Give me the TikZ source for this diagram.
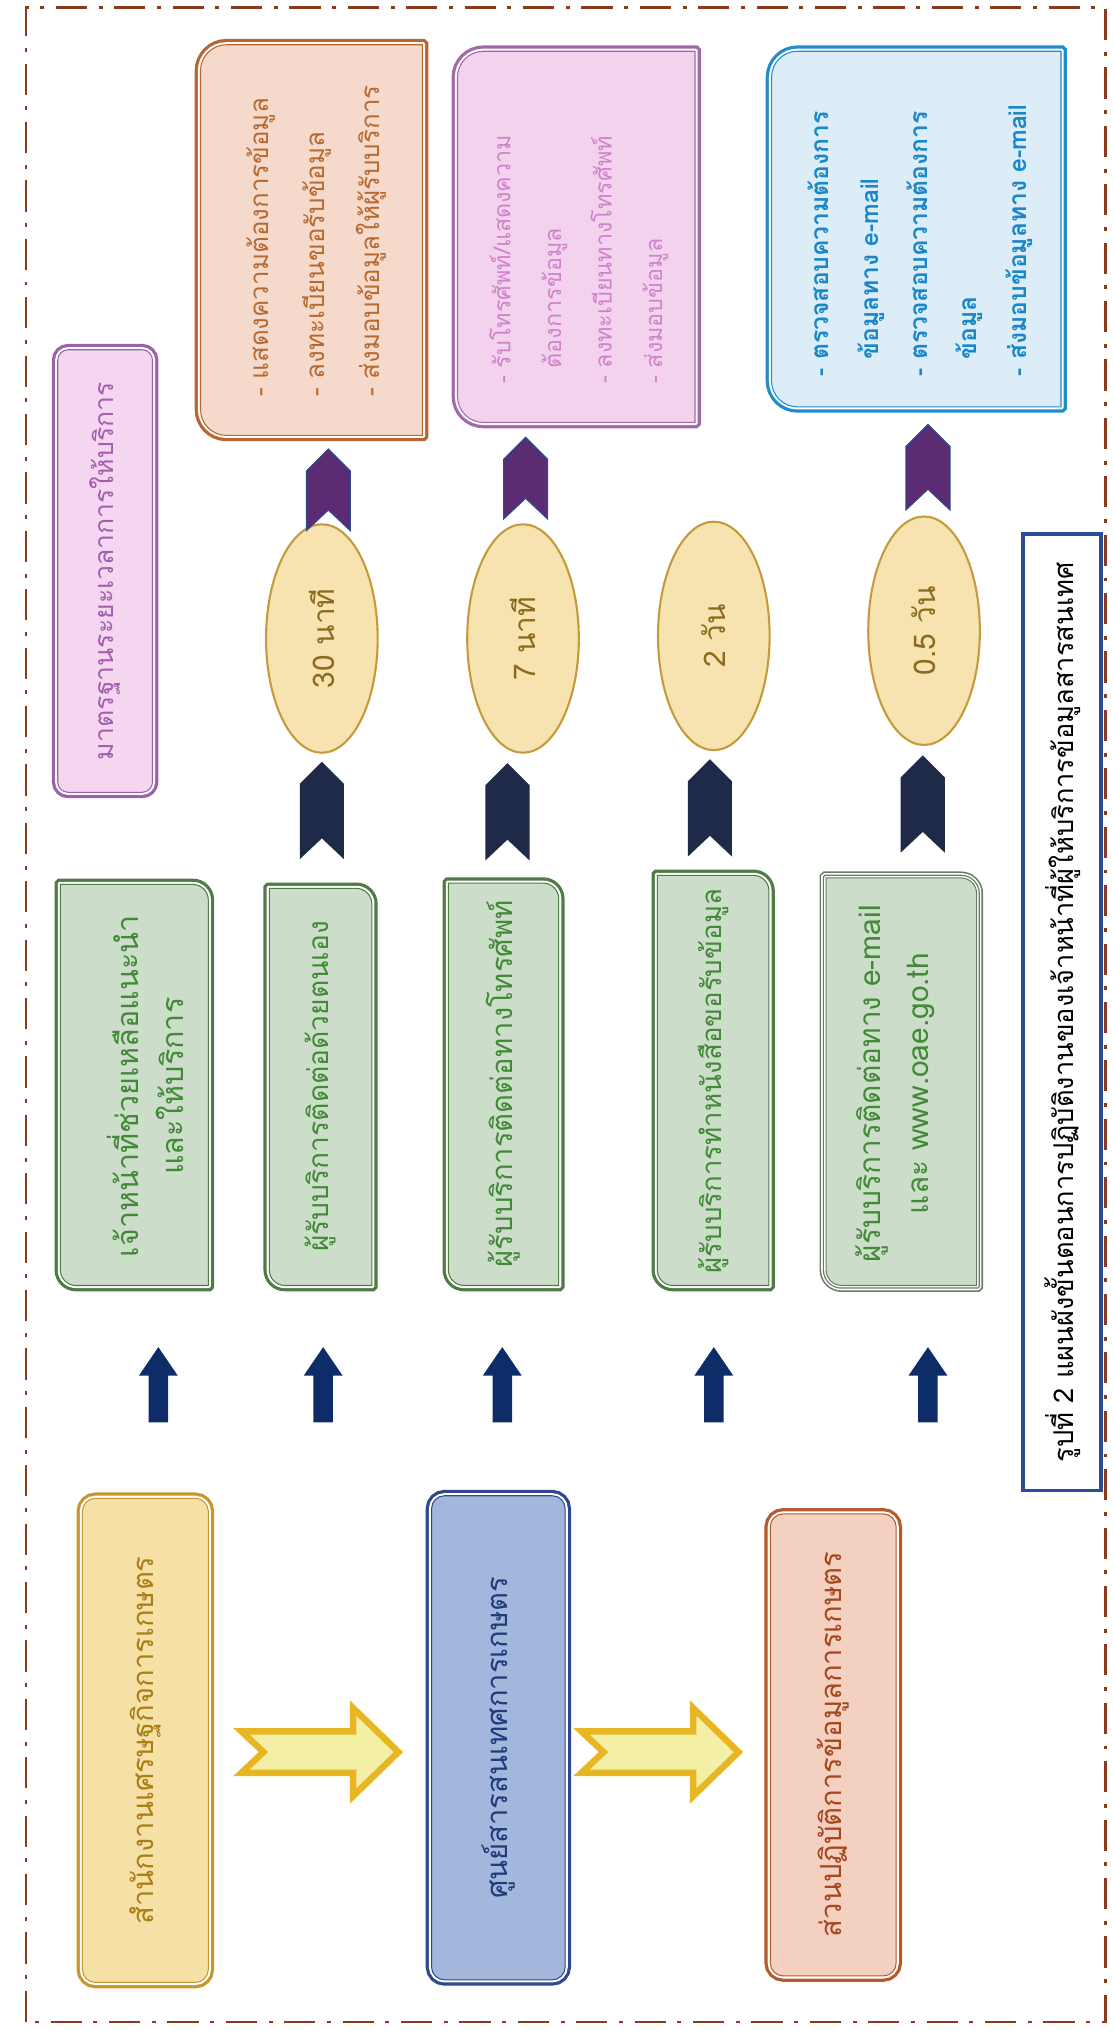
\documentclass[tikz,border=0pt]{standalone}
\usepackage{fontspec}
\newfontfamily\thai[Script=Thai]{Loma}
\usetikzlibrary{shapes.geometric}
\definecolor{dashbrown}{HTML}{8B3A1E}
\definecolor{goldB}{HTML}{C8962F}\definecolor{goldF}{HTML}{F5E0A6}\definecolor{goldT}{HTML}{A97F16}
\definecolor{blueB}{HTML}{2E4A8C}\definecolor{blueF}{HTML}{A3B7DC}\definecolor{blueT}{HTML}{1E3C7C}
\definecolor{peachB}{HTML}{B65A2B}\definecolor{peachF}{HTML}{F3D0C0}\definecolor{peachT}{HTML}{A5461E}
\definecolor{purB}{HTML}{9C62A8}\definecolor{purF}{HTML}{F4D6F0}\definecolor{purT}{HTML}{A45EAE}
\definecolor{grnB}{HTML}{4F7B45}\definecolor{grnF}{HTML}{CCDDC9}\definecolor{grnT}{HTML}{428A38}
\definecolor{grayB}{HTML}{6C7B69}
\definecolor{orB}{HTML}{B9652F}\definecolor{orF}{HTML}{F5D9CB}\definecolor{orT}{HTML}{B76A30}
\definecolor{pinkB}{HTML}{A366A9}\definecolor{pinkF}{HTML}{F3D2EE}\definecolor{pinkT}{HTML}{D083CB}
\definecolor{skyB}{HTML}{1E8DCA}\definecolor{skyF}{HTML}{DDEDF8}\definecolor{skyT}{HTML}{1A87C9}
\definecolor{ellF}{HTML}{F6E3AF}\definecolor{ellB}{HTML}{C59A3A}\definecolor{ellT}{HTML}{8C6B1F}
\definecolor{chevN}{HTML}{1F2A48}\definecolor{chevP}{HTML}{5B2B73}\definecolor{chevPB}{HTML}{2F4D8C}
\definecolor{arrN}{HTML}{0E2C68}\definecolor{arrF}{HTML}{F3EFA5}\definecolor{arrG}{HTML}{E8B523}
\definecolor{capB}{HTML}{2C4C95}
\newcommand\tsz[2]{\fontsize{#1}{#2}\selectfont}
\def\Hh{1568}
\def\bInset{4.5}
% outer box: x1, ytop, x2, ybot (y measured downward), radii TL TR BR BL, style
\newcommand\rframe[9]{%
 \path[#9] ({#1+\bInset+#8},{\Hh-#4+\bInset}) -- ({#3-\bInset-#7},{\Hh-#4+\bInset})
  arc[start angle=-90,end angle=0,radius=#7pt] -- ({#3-\bInset},{\Hh-#2-\bInset-#6})
  arc[start angle=0,end angle=90,radius=#6pt] -- ({#1+\bInset+#5},{\Hh-#2-\bInset})
  arc[start angle=90,end angle=180,radius=#5pt] -- ({#1+\bInset},{\Hh-#4+\bInset+#8})
  arc[start angle=180,end angle=270,radius=#8pt] -- cycle;}
% chevron: cx, ytop, ybot, style
\newcommand\chev[4]{%
 \path[#4] (#1,{\Hh-#2}) -- ({#1+17},{\Hh-#2-17}) -- ({#1+17},{\Hh-#3}) -- (#1,{\Hh-#3+16})
  -- ({#1-17},{\Hh-#3}) -- ({#1-17},{\Hh-#2-17}) -- cycle;}
% up arrow: cx
\newcommand\uparr[1]{%
 \path[fill=arrN] (#1,{\Hh-1038}) -- ({#1+15},{\Hh-1060}) -- ({#1+7.5},{\Hh-1060}) -- ({#1+7.5},{\Hh-1096})
  -- ({#1-7.5},{\Hh-1096}) -- ({#1-7.5},{\Hh-1060}) -- ({#1-15},{\Hh-1060}) -- cycle;}
% right block arrow: x0, x1
\newcommand\rarr[2]{%
 \path[fill=arrF, draw=arrG, line width=5pt, line join=miter] (#1,{\Hh-1334}) -- ({#2-35},{\Hh-1334})
  -- ({#2-35},{\Hh-1316}) -- (#2,{\Hh-1350}) -- ({#2-35},{\Hh-1384}) -- ({#2-35},{\Hh-1366})
  -- (#1,{\Hh-1366}) -- ({#1+17},{\Hh-1350}) -- cycle;}
\tikzset{
 frm/.style 2 args={preaction={draw=#1,line width=9pt}, preaction={draw=white,line width=4pt}, fill=#2, draw=#1, line width=0.8pt},
 frmg/.style 2 args={preaction={draw=#1,line width=10pt}, preaction={draw=white,line width=7.5pt}, preaction={draw=#1,line width=5pt}, preaction={draw=white,line width=3pt}, fill=#2, draw=#1, line width=0.8pt},
 lbl/.style={rotate=90, align=center, inner sep=0pt, font=\thai\tsz{23.5}{34}},
 infotxt/.style={rotate=90, align=left, inner sep=0pt, anchor=west},
 ell/.style={ellipse, rotate=90, minimum width=176pt, minimum height=86pt, inner sep=0pt, fill=ellF, draw=ellB, line width=1.6pt, text=ellT, font=\thai\tsz{23}{26}},
 navy/.style={fill=chevN},
 purch/.style={fill=chevP, draw=chevPB, line width=0.8pt},
}
\begin{document}
\begin{tikzpicture}[x=1pt,y=1pt]
\useasboundingbox (0,0) rectangle (857,1568);
% page border
\draw[dashbrown, line width=2pt, dash pattern=on 24pt off 9pt on 3pt off 9pt] (20,10) rectangle (852,1562);

% bottom organisation boxes
\rframe{59}{1150}{165}{1532}{10}{10}{10}{10}{frm={goldB}{goldF}}
\rframe{328}{1148}{440}{1530}{10}{10}{10}{10}{frm={blueB}{blueF}}
\rframe{589}{1162}{695}{1527}{10}{10}{10}{10}{frm={peachB}{peachF}}
\node[lbl, text=goldT, font=\thai\tsz{22.5}{30}] (oae) at (112,227) {สำนักงานเศรษฐกิจการเกษตร};
\node[lbl, text=blueT, font=\thai\tsz{22.5}{30}] (center) at (384,229) {ศูนย์สารสนเทศการเกษตร};
\node[lbl, text=peachT, font=\thai\tsz{22.5}{30}] (dept) at (642,224) {ส่วนปฏิบัติการข้อมูลการเกษตร};
\rarr{186}{307}
\rarr{448}{569}

% title box
\rframe{40}{265}{122}{615}{8}{8}{8}{8}{frm={purB}{purF}}
\node[lbl, text=purT, font=\thai\tsz{20.5}{24}] (title) at (81,1128) {มาตรฐานระยะเวลาการให้บริการ};

% green boxes
\rframe{42}{677}{165}{995}{0.01}{12}{0.01}{12}{frm={grnB}{grnF}}
\rframe{203}{680}{291}{995}{0.01}{12}{0.01}{12}{frm={grnB}{grnF}}
\rframe{341}{676}{435}{995}{0.01}{12}{0.01}{12}{frm={grnB}{grnF}}
\rframe{502}{670}{597}{995}{0.01}{12}{0.01}{12}{frm={grnB}{grnF}}
\rframe{632}{672}{757}{995}{0.01}{12}{0.01}{12}{frmg={grayB}{grnF}}
\node[lbl, text=grnT] (g1) at (112,731) {เจ้าหน้าที่ช่วยเหลือแนะนำ\\และให้บริการ};
\node[lbl, text=grnT, font=\thai\tsz{21.7}{30}] (g2) at (247,731) {ผู้รับบริการติดต่อด้วยตนเอง};
\node[lbl, text=grnT, font=\thai\tsz{22.5}{30}] (g3) at (388,733) {ผู้รับบริการติดต่อทางโทรศัพท์};
\node[lbl, text=grnT, font=\thai\tsz{21.3}{30}] (g4) at (550,735) {ผู้รับบริการทำหนังสือขอรับข้อมูล};
\node[lbl, text=grnT, font=\thai\tsz{23}{37}] (g5) at (690,733) {ผู้รับบริการติดต่อทาง e-mail\\และ www.oae.go.th};

% up arrows
\uparr{122}\uparr{249}\uparr{387}\uparr{550}\uparr{715}

% navy chevrons
\chev{248}{587}{662}{navy}
\chev{391}{588}{663}{navy}
\chev{547}{585}{660}{navy}
\chev{711}{582}{657}{navy}

% time ellipses
\node[ell] (t1) at (248,1076) {30 นาที};
\node[ell] (t2) at (403,1076) {7 นาที};
\node[ell] (t3) at (550,1078) {2 วัน};
\node[ell] (t4) at (712,1082) {0.5 วัน};

% purple chevrons
\chev{253}{346}{409}{purch}
\chev{405}{337}{400}{purch}
\chev{715}{327}{393}{purch}

% information boxes
\rframe{150}{30}{330}{340}{20}{0.01}{0.01}{20}{frm={orB}{orF}}
\rframe{348}{35}{540}{330}{20}{0.01}{0.01}{20}{frm={pinkB}{pinkF}}
\rframe{590}{35}{822}{318}{20}{0.01}{0.01}{20}{frm={skyB}{skyF}}
\node[infotxt, text=orT, font=\thai\tsz{20}{43}] (i1) at (244,1262)
 {- แสดงความต้องการข้อมูล\\- ลงทะเบียนขอรับข้อมูล\\- ส่งมอบข้อมูลให้ผู้รับบริการ};
\node[infotxt, text=pinkT, font=\thai\tsz{18}{39}] (i2) at (446,1272)
 {- รับโทรศัพท์/แสดงความ\\\hphantom{- }ต้องการข้อมูล\\- ลงทะเบียนทางโทรศัพท์\\- ส่งมอบข้อมูล};
\node[infotxt, text=skyT, font=\thai\bfseries\tsz{19}{38}] (i3) at (709,1278)
 {- ตรวจสอบความต้องการ\\\hphantom{- }ข้อมูลทาง e-mail\\- ตรวจสอบความต้องการ\\\hphantom{- }ข้อมูล\\- ส่งมอบข้อมูลทาง e-mail};

% caption
\node[rotate=90, draw=capB, line width=3pt, fill=white, minimum width=737pt, minimum height=60pt, inner sep=0pt, font=\thai\tsz{21}{24}] (caption) at (818.5,788) {รูปที่ 2 แผนผังขั้นตอนการปฏิบัติงานของเจ้าหน้าที่ผู้ให้บริการข้อมูลสารสนเทศ};
\end{tikzpicture}
\end{document}
